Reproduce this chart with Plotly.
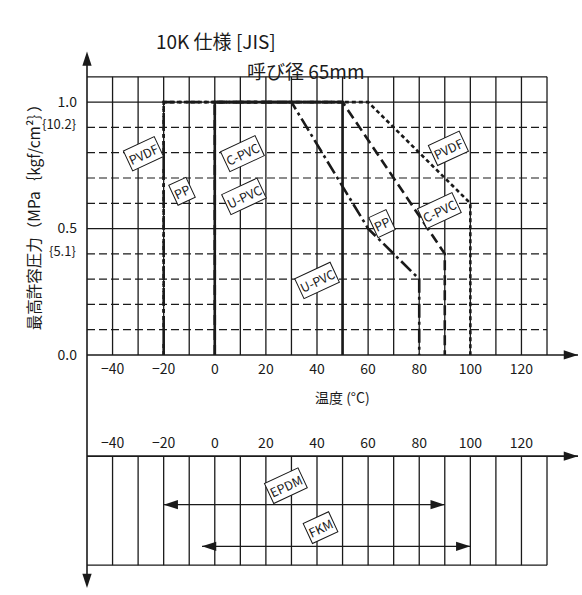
import plotly.graph_objects as go

W, H = 582, 595
FONT = "Noto Sans CJK JP"
INK = "#1a1a1a"

# ---------------- data ----------------
grid_temps = [-40, -30, -20, -10, 0, 10, 20, 30, 40, 50, 60, 70, 80, 90, 100, 110, 120, 130]
solid_pressures = [0.0, 0.5, 1.0, 1.1]
dashed_pressures = [0.1, 0.2, 0.3, 0.4, 0.6, 0.7, 0.8, 0.9]
temp_ticks = [-40, -20, 0, 20, 40, 60, 80, 100, 120]
pressure_ticks = [0.0, 0.5, 1.0]
pressure_ticktext = ["0.0", "0.5", "1.0"]
kgf_text = ["{10.2}", "{5.1}"]
kgf_mpa = [1.0, 0.5]

pvdf_t = [-20, -20, 60, 100, 100]
pvdf_p = [0.0, 1.0, 1.0, 0.6, 0.0]
cpvc_t = [0, 0, 50, 90, 90]
cpvc_p = [0.0, 1.0, 1.0, 0.4, 0.0]
pp_t = [-20, -20, 30, 60, 80, 80]
pp_p = [0.0, 1.0, 1.0, 0.5, 0.3, 0.0]
upvc_t = [0, 0, 50, 50]
upvc_p = [0.0, 1.0, 1.0, 0.0]

label_text = ["PVDF", "PP", "C-PVC", "U-PVC", "PP", "C-PVC", "PVDF", "U-PVC"]
label_t = [-27.7, -13, 11, 11.3, 65.5, 88, 91.3, 40]
label_p = [0.796, 0.647, 0.796, 0.627, 0.52, 0.57, 0.816, 0.295]

seal_names = ["EPDM", "FKM"]
seal_min = [-20, -5]
seal_max = [90, 100]

# ---------------- geometry (pixels) ----------------
PX_DEG = 2.5556          # pixels per degree
T_LEFT = -50             # temperature at the y axis
T_GRID_MAX = 130
AX_PX = 87               # pixel of y axis
DOM_LEFT_PX = 78
x_range = [T_LEFT - (AX_PX - DOM_LEFT_PX) / PX_DEG, T_LEFT + (W - AX_PX) / PX_DEG]
T_ARROW = T_LEFT + (578 - AX_PX) / PX_DEG

PX_MPA = 255.0
Y0_PX = 358
y_dom_px = (362, 48)
y_range = [-(y_dom_px[0] - Y0_PX) / PX_MPA, (Y0_PX - y_dom_px[1]) / PX_MPA]
P_ARROW = (Y0_PX - 52) / PX_MPA

PX_ROW = 100.0
Y2_0_PX = 460
y2_dom_px = (595, 456)
y2_range = [-(y2_dom_px[0] - Y2_0_PX) / PX_ROW, (Y2_0_PX - y2_dom_px[1]) / PX_ROW]
ROW_BOTTOM = -1.1
ROW_ARROW = -(593 - Y2_0_PX) / PX_ROW
seal_rows = [-0.49, -0.91]
seal_label_rows = [-0.30, -0.72]
seal_label_dt = [-7, -6]


def pf(py):
    return (H - py) / H


fig = go.Figure()


def seg_trace(xs, ys, dash="solid", width=1.3, xa="x", ya="y", color=INK):
    fig.add_trace(go.Scatter(x=xs, y=ys, mode="lines", xaxis=xa, yaxis=ya,
                             line=dict(color=color, width=width, dash=dash),
                             hoverinfo="skip", showlegend=False, cliponaxis=False))


# top grid
vx, vy = [], []
for t in grid_temps:
    vx += [t, t, None]
    vy += [0, 1.1, None]
seg_trace(vx, vy)
hx, hy = [], []
for p in solid_pressures[1:]:
    hx += [T_LEFT, T_GRID_MAX, None]
    hy += [p, p, None]
seg_trace(hx, hy)
dx, dy = [], []
for p in dashed_pressures:
    dx += [T_LEFT, T_GRID_MAX, None]
    dy += [p, p, None]
seg_trace(dx, dy, dash="8px,4px", width=1.2)
# top x axis line
seg_trace([T_LEFT, T_ARROW], [0, 0], width=1.6)

# bottom grid
bx, by = [], []
for t in grid_temps:
    bx += [t, t, None]
    by += [0, ROW_BOTTOM, None]
bx += [T_LEFT, T_GRID_MAX, None]
by += [ROW_BOTTOM, ROW_BOTTOM, None]
seg_trace(bx, by, xa="x2", ya="y2")
seg_trace([T_LEFT, T_ARROW], [0, 0], width=1.6, xa="x2", ya="y2")

# series
seg_trace(pvdf_t, pvdf_p, dash="4px,3px", width=2.6)
seg_trace(cpvc_t, cpvc_p, dash="10px,5px", width=2.6)
seg_trace(pp_t, pp_p, dash="14px,4px,3px,4px", width=2.6)
seg_trace(upvc_t, upvc_p, dash="solid", width=2.6)

# seal ranges
for i in range(len(seal_names)):
    seg_trace([seal_min[i], seal_max[i]], [seal_rows[i]] * 2, width=1.3, xa="x2", ya="y2")
    fig.add_trace(go.Scatter(x=[seal_min[i], seal_max[i]], y=[seal_rows[i]] * 2, mode="markers",
                             xaxis="x2", yaxis="y2", cliponaxis=False, showlegend=False,
                             hoverinfo="skip",
                             marker=dict(symbol="arrow", size=15, angle=[270, 90],
                                         color=INK, line=dict(width=0))))

# axis arrowheads
fig.add_trace(go.Scatter(x=[T_LEFT, T_ARROW], y=[P_ARROW, 0], mode="markers", cliponaxis=False,
                         showlegend=False, hoverinfo="skip",
                         marker=dict(symbol="arrow", size=15, angle=[0, 90], color=INK,
                                     line=dict(width=0))))
fig.add_trace(go.Scatter(x=[T_LEFT, T_ARROW], y=[ROW_ARROW, 0], mode="markers", cliponaxis=False,
                         xaxis="x2", yaxis="y2", showlegend=False, hoverinfo="skip",
                         marker=dict(symbol="arrow", size=15, angle=[180, 90], color=INK,
                                     line=dict(width=0))))

# y axis line spanning both panels
fig.add_shape(type="line", xref="x", yref="paper", x0=T_LEFT, x1=T_LEFT,
              y0=pf(590), y1=pf(56), line=dict(color=INK, width=1.6))

annotations = []
box = dict(bordercolor=INK, borderwidth=1, borderpad=1, bgcolor="white",
           font=dict(family=FONT, size=12.5, color=INK), showarrow=False, textangle=-25)
for txt, t, p in zip(label_text, label_t, label_p):
    annotations.append(dict(text=txt, x=t, y=p, xref="x", yref="y", **box))
for i, name in enumerate(seal_names):
    annotations.append(dict(text=name, x=(seal_min[i] + seal_max[i]) / 2 + seal_label_dt[i],
                            y=seal_label_rows[i], xref="x2", yref="y2", **box))
for txt, p in zip(kgf_text, kgf_mpa):
    annotations.append(dict(text=txt, x=78 / W, xanchor="right", y=p - 0.086, xref="paper",
                            yref="y", showarrow=False, font=dict(family=FONT, size=13, color=INK)))
annotations += [
    dict(text="10K 仕様 [JIS]", x=216 / W, y=pf(25), xref="paper", yref="paper",
         showarrow=False, font=dict(family=FONT, size=19, color=INK)),
    dict(text="呼び径 65mm", x=306 / W, y=pf(55), xref="paper", yref="paper",
         showarrow=False, font=dict(family=FONT, size=19, color=INK)),
    dict(text="温度 (°C)", x=342 / W, y=pf(412), xref="paper", yref="paper",
         showarrow=False, font=dict(family=FONT, size=14, color=INK)),
    dict(text="最高許容圧力（MPa｛kgf/cm²｝）", x=20 / W, y=pf(215), xref="paper", yref="paper",
         textangle=-90, showarrow=False, font=dict(family=FONT, size=15.5, color=INK)),
]

tickfont = dict(family=FONT, size=14, color=INK)
fig.update_layout(
    width=W, height=H, margin=dict(l=0, r=0, t=0, b=0),
    paper_bgcolor="white", plot_bgcolor="white", showlegend=False,
    annotations=annotations,
    xaxis=dict(domain=[DOM_LEFT_PX / W, 1], range=x_range, anchor="y", side="bottom",
               tickvals=temp_ticks, ticks="", showgrid=False, zeroline=False, showline=False,
               tickfont=tickfont),
    yaxis=dict(domain=[pf(y_dom_px[0]), pf(y_dom_px[1])], range=y_range, anchor="x",
               tickvals=pressure_ticks, ticktext=pressure_ticktext, ticks="", showgrid=False,
               zeroline=False, showline=False, tickfont=tickfont),
    xaxis2=dict(domain=[DOM_LEFT_PX / W, 1], range=x_range, anchor="y2", side="top",
                tickvals=temp_ticks, ticks="", showgrid=False, zeroline=False, showline=False,
                tickfont=tickfont),
    yaxis2=dict(domain=[pf(y2_dom_px[0]), pf(y2_dom_px[1])], range=y2_range, anchor="x2",
                showticklabels=False, ticks="", showgrid=False, zeroline=False, showline=False),
)

fig.write_html("out.html", config=dict(displayModeBar=False),
               post_script="document.body.style.margin='0';document.body.style.overflow='hidden';")
